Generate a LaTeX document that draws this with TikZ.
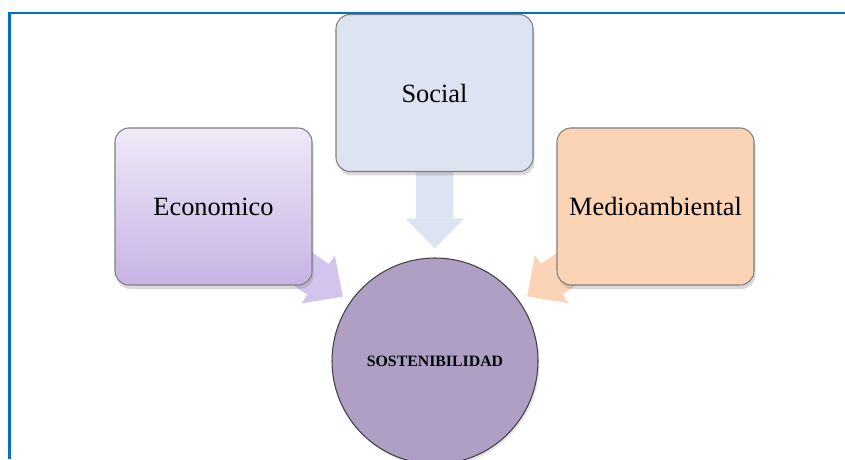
\documentclass[tikz,border=0pt]{standalone}
\usepackage{fontspec}
\setmainfont{Liberation Serif}
\usetikzlibrary{%
  calc,arrows.meta,shadows,%
  backgrounds}
\tikzset {>=Stealth}
\definecolor{framecol}{RGB}{0,112,192}
\definecolor{econtop}{RGB}{239,233,248}
\definecolor{econbot}{RGB}{198,180,228}
\definecolor{econarr}{RGB}{210,196,236}
\definecolor{socfill}{RGB}{219,228,240}
\definecolor{medfill}{RGB}{250,212,180}
\definecolor{sostfill}{RGB}{176,159,197}
\tikzset{
  area/.style={rounded corners=0.28cm, draw=black!50, line width=0.6pt,
    minimum width=3.94cm, minimum height=3.14cm,
    drop shadow={opacity=0.3, shadow xshift=0.03cm, shadow yshift=-0.08cm},
    font=\fontsize{15}{18}\selectfont},
  bigarrow/.style={line width=0.75cm, #1, shorten >=0.18cm,
    -{Triangle[line width=0pt, length=0.6cm, width=1.17cm]}}
}

\begin{document}
\begin{tikzpicture}
\useasboundingbox (0,0) rectangle (16.9,9.18);
\draw[framecol, line width=0.055cm] (0.19,0) -- (0.19,8.92) -- (16.9,8.92);
\node[area, top color=econtop, bottom color=econbot] (econ) at (4.27,5.05)
  {Economico};
\node[area, fill=socfill] (social) at (8.69,7.32) {Social};
\node[area, fill=medfill] (medio) at (13.11,5.05) {Medioambiental};
\node[circle, draw=black!75, line width=0.6pt, fill=sostfill,
  minimum size=4.12cm,
  drop shadow={opacity=0.2, shadow xshift=0.03cm, shadow yshift=-0.05cm},
  font=\bfseries\fontsize{9}{11}\selectfont] (sost) at (8.70,1.96)
  {SOSTENIBILIDAD};
\begin{scope}[on background layer]
\draw[bigarrow=econarr] (econ.center) -- (sost);
\draw[bigarrow=socfill] (social.center) -- (sost);
\draw[bigarrow=medfill] (medio.center) -- (sost);
\end{scope}
\end{tikzpicture}
\end{document}
